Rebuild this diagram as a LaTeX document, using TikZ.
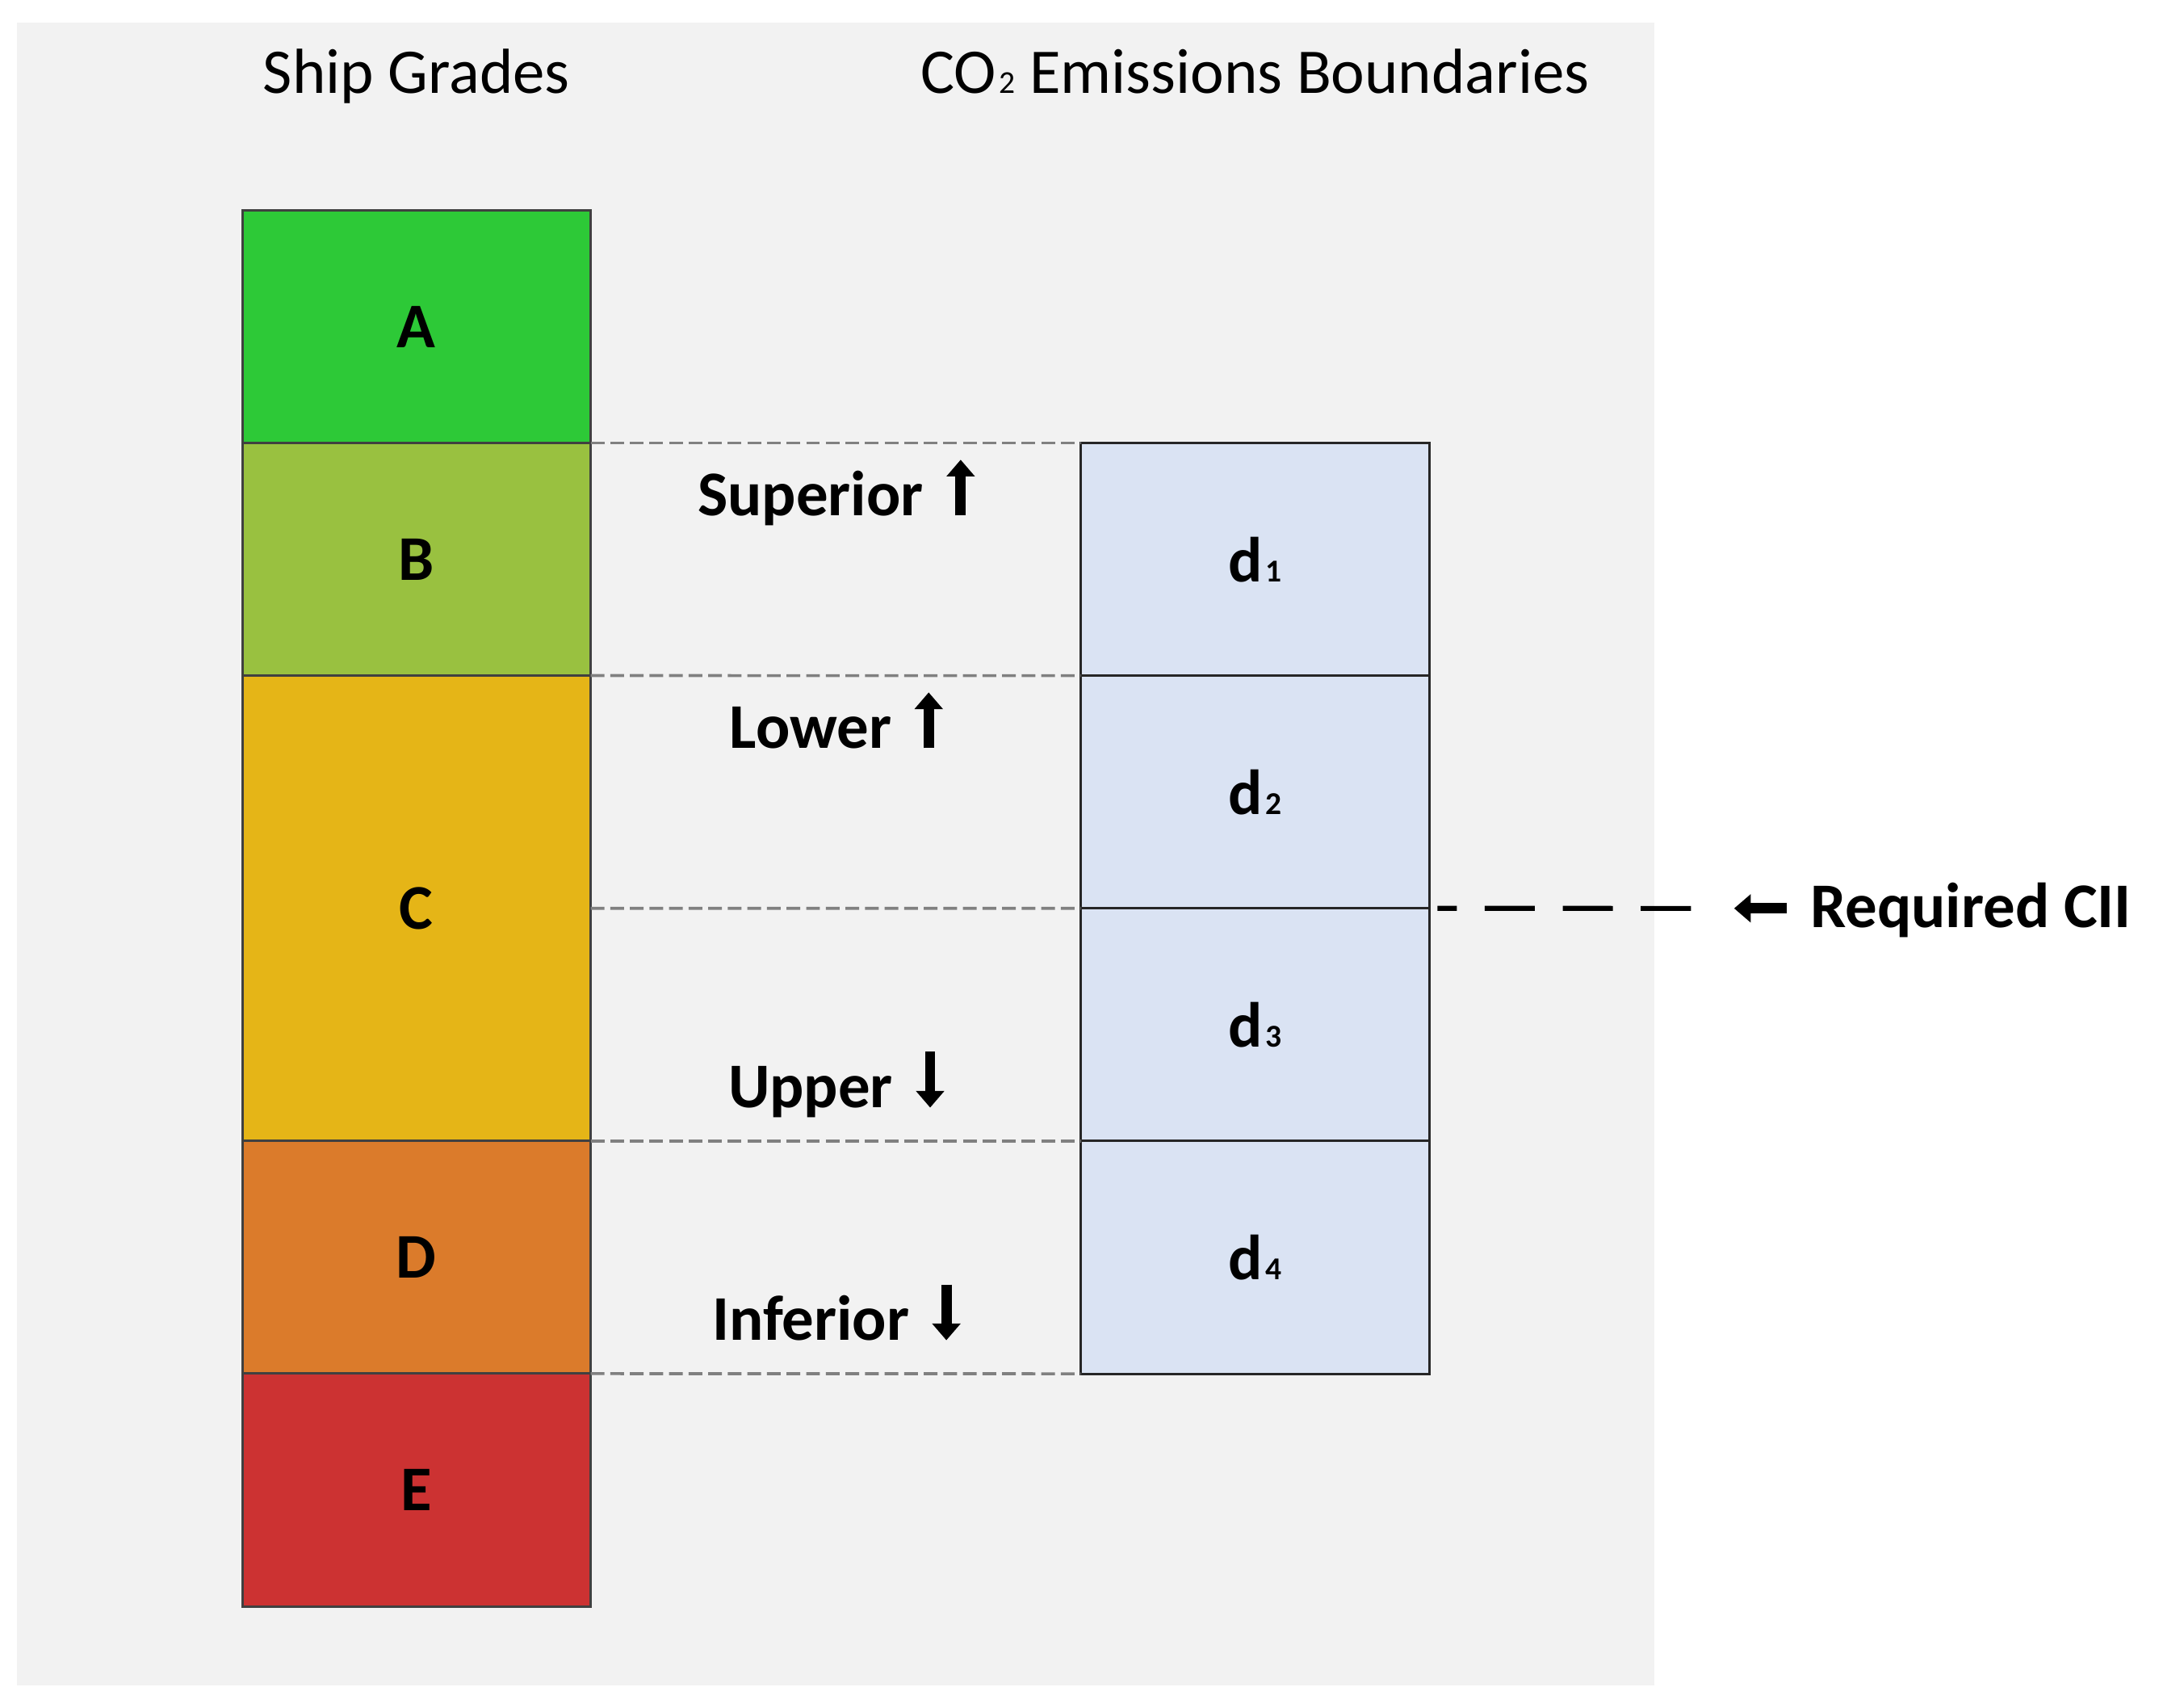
\documentclass[tikz,border=0pt]{standalone}
\usepackage{fontspec}
\setmainfont{Carlito}
\usetikzlibrary{arrows.meta}

\definecolor{gradeA}{HTML}{2DC937}
\definecolor{gradeB}{HTML}{99C140}
\definecolor{gradeC}{HTML}{E5B517}
\definecolor{gradeD}{HTML}{DB7B2B}
\definecolor{gradeE}{HTML}{CC3232}
\definecolor{dblue}{HTML}{DAE3F3}
\definecolor{bggray}{HTML}{F2F2F2}

% indice pequeno sobre la linea base
\newcommand{\lowidx}[1]{\kern0.6pt{\fontsize{6.5}{7}\selectfont #1}}

\tikzset{
  gradecell/.style={draw=black!75, line width=0.5pt, minimum width=2.5cm, inner sep=0pt,
    outer sep=0pt, font=\fontsize{13}{15}\selectfont\bfseries},
  dcell/.style={draw=black!85, fill=dblue, line width=0.5pt, minimum width=2.5cm,
    minimum height=1.67cm, inner sep=0pt, outer sep=0pt, font=\fontsize{13}{15}\selectfont\bfseries},
  boundline/.style={draw=black!50, line width=0.6pt, dash pattern=on 2.8pt off 1.2pt},
  ciiline/.style={line width=1pt, dash pattern=on 0.36cm off 0.2cm},
  fatarrow/.style={line width=2.1pt, -{Triangle[width=5.6pt,length=3.4pt]}},
  ranklabel/.style={font=\fontsize{13}{15}\selectfont\bfseries, inner sep=0pt, anchor=base},
  headline/.style={font=\fontsize{13}{15}\selectfont, inner sep=0pt, anchor=base},
}

\begin{document}
\begin{tikzpicture}[x=0.01cm, y=-0.01cm]
\useasboundingbox (0,0) rectangle (1568,1223);
\fill[bggray] (12,16) rectangle (1188,1210);

%% titulos %%%%%%%%%%%%%%%%%%%%%%
\node[headline] (tgrades) at (299,67) {Ship Grades};
\node[headline] (tbounds) at (901,67) {CO\lowidx{2} Emissions Boundaries};

%% columna de grados A..E %%%%%%%
\def\gX{299}
\foreach \gL/\gT/\gB/\gC in {A/151/318/gradeA, B/318/485/gradeB, C/485/819/gradeC,
                             D/819/986/gradeD, E/986/1153/gradeE}{
\pgfmathsetmacro\gH{(\gB-\gT)/100}
\pgfmathsetmacro\gM{(\gB+\gT)/2}
\node[gradecell, fill=\gC, minimum height=\gH cm] (g\gL) at (\gX,\gM) {\gL};
}

%% columna d1..d4 %%%%%%%%%%%%%%%%
\def\dX{901}
\foreach \i/\dT in {1/318, 2/485, 3/652, 4/819}{
\node[dcell] (d\i) at (\dX,\dT+83.5) {d\lowidx{\i}};
}

%% lineas de limite (dashed) %%%%%
\draw[boundline] (gB.north east) -- (d1.north west);
\draw[boundline] (gC.north east) -- (d2.north west);
\draw[boundline] (gC.east) -- (d3.north west);
\draw[boundline] (gD.north east) -- (d4.north west);
\draw[boundline] (gE.north east) -- (d4.south west);

%% etiquetas con flechas %%%%%%%%%
\node[ranklabel] (sup) at (582,370) {Superior};
\node[ranklabel] (low) at (582,537) {Lower};
\node[ranklabel] (upp) at (582,795) {Upper};
\node[ranklabel] (inf) at (582,962) {Inferior};
\draw[fatarrow] ([xshift=0.26cm]sup.base east) -- ([xshift=0.26cm,yshift=0.4cm]sup.base east);
\draw[fatarrow] ([xshift=0.26cm]low.base east) -- ([xshift=0.26cm,yshift=0.4cm]low.base east);
\draw[fatarrow] ([xshift=0.26cm,yshift=0.4cm]upp.base east) -- ([xshift=0.26cm]upp.base east);
\draw[fatarrow] ([xshift=0.26cm,yshift=0.4cm]inf.base east) -- ([xshift=0.26cm]inf.base east);

%% Required CII %%%%%%%%%%%%%%%%%%
\node[ranklabel, anchor=base west] (cii) at (1299,666) {Required CII};
\coordinate (ciiarr) at (1283,652);
\coordinate (ciiend) at (1214,652);
\draw[fatarrow] (ciiarr) -- (1245,652);
\draw[ciiline] (ciiend) -- ([xshift=0.06cm]d3.north east);
\end{tikzpicture}
\end{document}
